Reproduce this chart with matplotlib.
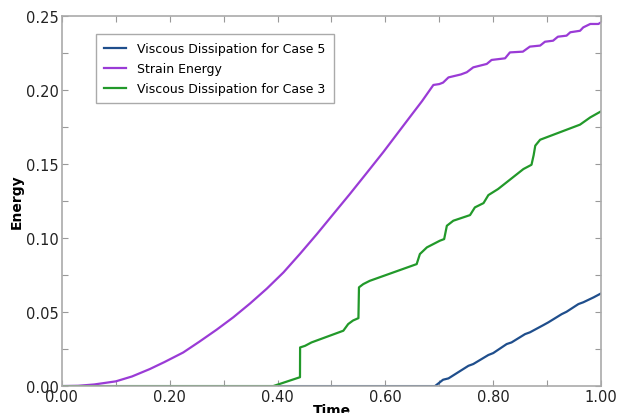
import numpy as np
import matplotlib as mpl
mpl.use('agg')
import matplotlib.pyplot as plt
from matplotlib.ticker import MultipleLocator, NullFormatter, FormatStrFormatter

# strain energy: smooth rise, then stepped growth after ~0.69
t_strain = [0.0, 0.03, 0.06, 0.10, 0.13, 0.163, 0.19, 0.225, 0.255, 0.287, 0.318,
            0.349, 0.38, 0.411, 0.442, 0.473, 0.503, 0.534, 0.565, 0.596, 0.621,
            0.646, 0.668, 0.689, 0.700, 0.707, 0.717, 0.740, 0.751, 0.763,
            0.788, 0.797, 0.822, 0.831, 0.855, 0.868, 0.887, 0.896, 0.911, 0.920,
            0.936, 0.943, 0.961, 0.967, 0.980, 0.995, 1.0]
e_strain = [0.0, 0.0002, 0.0011, 0.0032, 0.0065, 0.0115, 0.0162, 0.0227, 0.0300, 0.0381, 0.0465,
            0.0558, 0.0658, 0.0768, 0.0895, 0.1027, 0.1160, 0.1297, 0.1438, 0.1580, 0.1700,
            0.1820, 0.1925, 0.2034, 0.2040, 0.205, 0.2085, 0.2105, 0.212, 0.2153,
            0.2176, 0.2203, 0.2214, 0.2254, 0.2259, 0.2293, 0.230, 0.2326, 0.2333, 0.236,
            0.2367, 0.239, 0.240, 0.2423, 0.2446, 0.2446, 0.2457]

# viscous dissipation, case 3
t_case3 = [0.0, 0.392, 0.4416, 0.4418, 0.451, 0.463, 0.522, 0.531, 0.540, 0.550, 0.551,
           0.559, 0.571, 0.658, 0.664, 0.677, 0.701, 0.709, 0.714, 0.726, 0.757, 0.766,
           0.782, 0.791, 0.809, 0.856, 0.871, 0.875, 0.878, 0.887, 0.961, 0.980, 1.0]
e_case3 = [0.0, 0.0, 0.0060, 0.0261, 0.0272, 0.0295, 0.0374, 0.0419, 0.0443, 0.0459, 0.0667,
           0.0689, 0.0711, 0.0824, 0.0892, 0.0937, 0.0982, 0.0993, 0.1083, 0.1117, 0.1155, 0.1207,
           0.1236, 0.129, 0.1331, 0.1466, 0.1495, 0.156, 0.1624, 0.1664, 0.1766, 0.1815, 0.1856]

# viscous dissipation, case 5
t_case5 = [0.0, 0.692, 0.707, 0.717, 0.754, 0.763, 0.791, 0.800, 0.825, 0.834, 0.859,
           0.868, 0.893, 0.902, 0.927, 0.936, 0.958, 0.967, 0.986, 1.0]
e_case5 = [0.0, 0.0, 0.0043, 0.0052, 0.0137, 0.0149, 0.021, 0.0223, 0.0284, 0.0295, 0.0351,
           0.0363, 0.0412, 0.043, 0.0486, 0.0502, 0.0554, 0.0566, 0.0599, 0.0626]

fig = plt.figure(figsize=(6.19, 4.14), dpi=100)
ax = fig.add_axes([0.100, 0.065, 0.871, 0.894])

ax.plot(t_case5, e_case5, color='#1f4e8c', lw=1.6, label='Viscous Dissipation for Case 5')
ax.plot(t_strain, e_strain, color='#9a3bd6', lw=1.6, label='Strain Energy')
ax.plot(t_case3, e_case3, color='#22992a', lw=1.6, label='Viscous Dissipation for Case 3')

ax.set_xlim(0, 1)
ax.set_ylim(0, 0.25)
ax.xaxis.set_major_locator(MultipleLocator(0.2))
ax.xaxis.set_minor_locator(MultipleLocator(0.1))
ax.yaxis.set_major_locator(MultipleLocator(0.05))
ax.yaxis.set_minor_locator(MultipleLocator(0.025))
ax.xaxis.set_major_formatter(FormatStrFormatter('%.2f'))
ax.yaxis.set_major_formatter(FormatStrFormatter('%.2f'))
ax.xaxis.set_minor_formatter(NullFormatter())
ax.tick_params(which='both', direction='in', top=True, right=True,
               length=4, width=0.8, color='#999999', labelsize=10.5,
               labelcolor='#222222', pad=2)

for s in ax.spines.values():
    s.set_color('#aaaaaa')
    s.set_linewidth(1.2)

ax.set_xlabel('Time', fontweight='bold', fontsize=10)
ax.set_ylabel('Energy', fontweight='bold', fontsize=10)
ax.xaxis.set_label_coords(0.5, -0.046)
ax.yaxis.set_label_coords(-0.071, 0.5)

leg = ax.legend(loc='upper left', bbox_to_anchor=(0.063, 0.951), borderaxespad=0,
                fontsize=9, fancybox=False, framealpha=1, handlelength=1.75,
                handletextpad=0.9, borderpad=0.65, labelspacing=0.55)
leg.get_frame().set_edgecolor('#aaaaaa')

fig.savefig('out.png', dpi=100)
